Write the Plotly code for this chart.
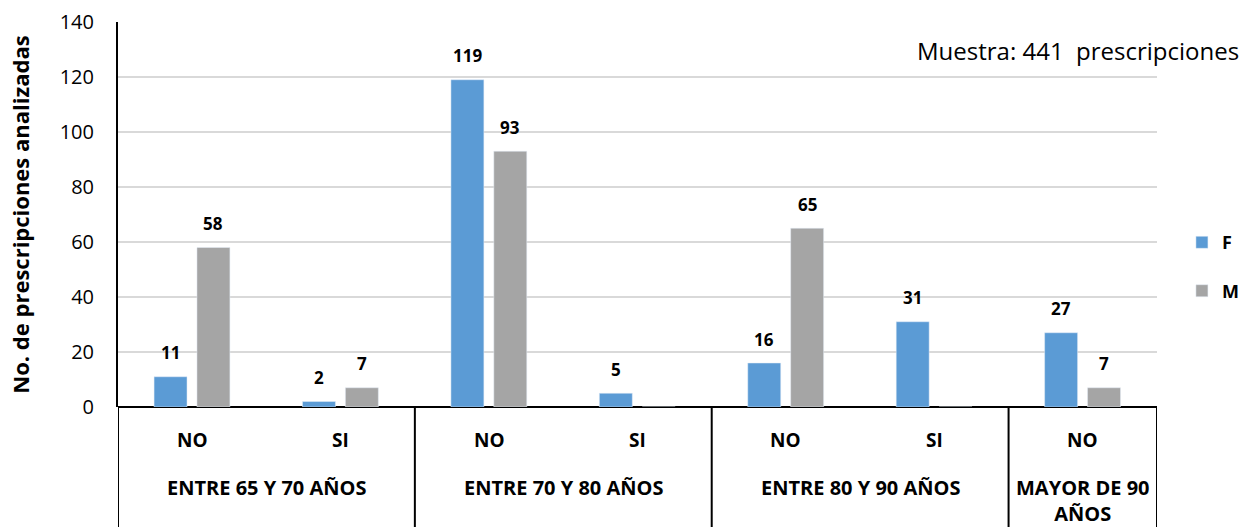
import plotly.graph_objects as go

categories = ["NO", "SI", "NO", "SI", "NO", "SI", "NO"]
groups = ["ENTRE 65 Y 70 AÑOS", "ENTRE 70 Y 80 AÑOS", "ENTRE 80 Y 90 AÑOS", "MAYOR DE 90<br>AÑOS"]
group_sizes = [2, 2, 2, 1]
F_values = [11, 2, 119, 5, 16, 31, 27]
M_values = [58, 7, 93, 0, 65, 0, 7]
series_names = ["F", "M"]
colors = ["#5b9bd5", "#a5a5a5"]

FONT = "Open Sans"
x = list(range(len(categories)))
bar_w = 0.222
offsets = [-0.257, 0.032]

fig = go.Figure()
for name, vals, col, off in zip(series_names, [F_values, M_values], colors, offsets):
    fig.add_trace(go.Bar(
        x=x, y=vals, name=name, marker_color=col, width=bar_w, offset=off,
        legendgroup=name,
    ))

annotations = []
shapes = []
# data labels
for vals, off in zip([F_values, M_values], offsets):
    for i, v in enumerate(vals):
        if v > 0:
            annotations.append(dict(
                x=i + off + bar_w / 2, y=v, xref="x", yref="y", text=f"<b>{v}</b>",
                showarrow=False, yanchor="middle", yshift=24,
                font=dict(family=FONT, size=17, color="#000000")))

# category labels
for i, c in enumerate(categories):
    annotations.append(dict(
        x=i, y=-0.086, xref="x", yref="paper", text=f"<b>{c}</b>", showarrow=False,
        yanchor="middle", font=dict(family=FONT, size=19, color="#000000")))

# group labels & dividers
start = -0.5
bounds = [start]
for g, n in zip(groups, group_sizes):
    center = start + n / 2
    annotations.append(dict(
        x=center, y=-0.17, xref="x", yref="paper", text=f"<b>{g}</b>", showarrow=False,
        yanchor="top", font=dict(family=FONT, size=20, color="#000000")))
    start += n
    bounds.append(start)
for b in bounds:
    shapes.append(dict(type="line", xref="x", yref="paper", x0=b, x1=b, y0=0, y1=-0.33,
                       line=dict(color="#000000", width=2)))

annotations.append(dict(
    x=0.767, y=0.927, xref="paper", yref="paper", xanchor="left", yanchor="middle",
    text="Muestra: 441  prescripciones", showarrow=False,
    font=dict(family=FONT, size=24, color="#000000")))

fig.update_layout(
    width=1250, height=527,
    margin=dict(l=118, r=93, t=22, b=120, autoexpand=False),
    plot_bgcolor="white", paper_bgcolor="white",
    barmode="group",
    showlegend=True,
    legend=dict(x=1.024, y=0.475, xanchor="left", yanchor="top",
                font=dict(family=FONT, size=18, color="#000000", weight="bold"),
                tracegroupgap=22, bgcolor="rgba(0,0,0,0)"),
    annotations=annotations,
    shapes=shapes,
    font=dict(family=FONT, color="#000000"),
)
fig.update_xaxes(range=[-0.5, 6.5], showticklabels=False, showgrid=False, zeroline=False,
                 showline=False, ticks="")
fig.update_yaxes(range=[0, 140], dtick=20, showgrid=True, gridcolor="#d9d9d9", gridwidth=1.5,
                 zeroline=True, zerolinecolor="#000000", zerolinewidth=2,
                 showline=True, linecolor="#000000", linewidth=2,
                 tickfont=dict(family=FONT, size=20, color="#000000"), ticklabelstandoff=18,
                 title=dict(text="<b>No. de prescripciones analizadas</b>",
                            font=dict(family=FONT, size=22, color="#000000"), standoff=24))

fig.write_html("out.html")
